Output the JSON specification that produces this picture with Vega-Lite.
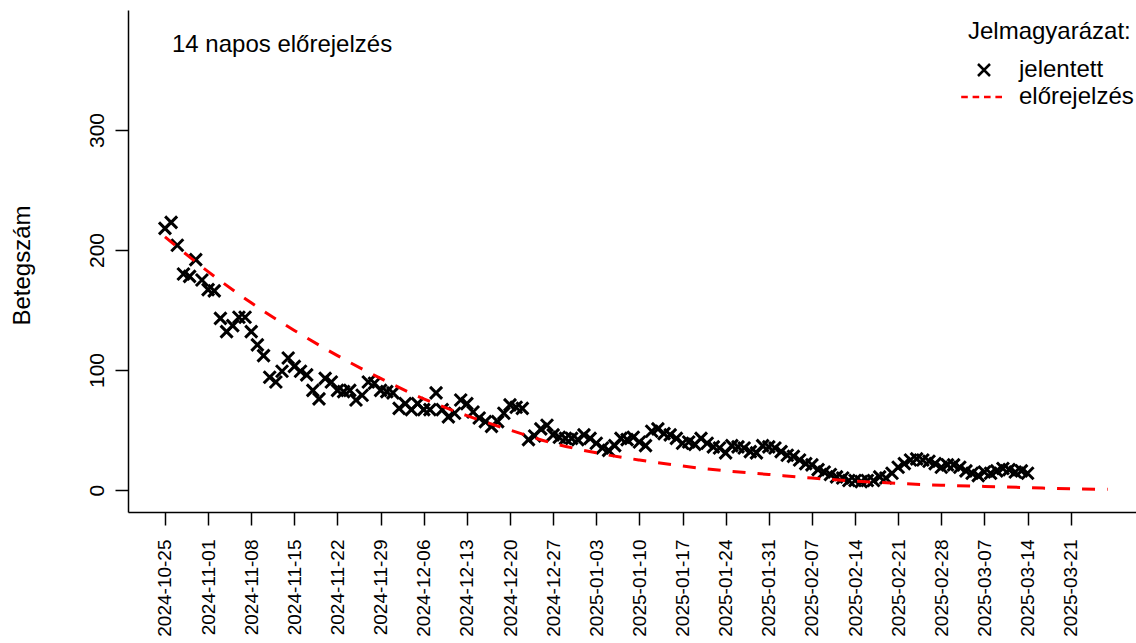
{
  "$schema": "https://vega.github.io/schema/vega-lite/v6.json",
  "width": 1008,
  "height": 502,
  "autosize": {"type": "none"},
  "padding": {"left": 128, "top": 10, "right": 0, "bottom": 131},
  "background": "white",
  "config": {
    "font": "Liberation Sans",
    "view": {"stroke": null},
    "axis": {"grid": false, "domainColor": "black", "tickColor": "black", "labelColor": "black", "titleColor": "black", "domainWidth": 1.5, "tickWidth": 1.5}
  },
  "title": {"text": "14 napos előrejelzés", "anchor": "start", "frame": "group", "offset": -66, "dx": 44, "fontSize": 24, "fontWeight": "normal", "font": "Liberation Sans", "color": "black", "baseline": "alphabetic"},
  "datasets": {
    "reported": [
      {"date": "2024-10-25", "value": 218}, {"date": "2024-10-26", "value": 223}, {"date": "2024-10-27", "value": 204}, {"date": "2024-10-28", "value": 180}, {"date": "2024-10-29", "value": 178}, {"date": "2024-10-30", "value": 192}, {"date": "2024-10-31", "value": 175},
      {"date": "2024-11-01", "value": 167}, {"date": "2024-11-02", "value": 166}, {"date": "2024-11-03", "value": 143}, {"date": "2024-11-04", "value": 132}, {"date": "2024-11-05", "value": 137}, {"date": "2024-11-06", "value": 144}, {"date": "2024-11-07", "value": 144}, {"date": "2024-11-08", "value": 132}, {"date": "2024-11-09", "value": 121}, {"date": "2024-11-10", "value": 112}, {"date": "2024-11-11", "value": 94}, {"date": "2024-11-12", "value": 90}, {"date": "2024-11-13", "value": 99}, {"date": "2024-11-14", "value": 110}, {"date": "2024-11-15", "value": 103}, {"date": "2024-11-16", "value": 99}, {"date": "2024-11-17", "value": 96}, {"date": "2024-11-18", "value": 83}, {"date": "2024-11-19", "value": 76}, {"date": "2024-11-20", "value": 93}, {"date": "2024-11-21", "value": 90}, {"date": "2024-11-22", "value": 83}, {"date": "2024-11-23", "value": 82}, {"date": "2024-11-24", "value": 83}, {"date": "2024-11-25", "value": 75}, {"date": "2024-11-26", "value": 79}, {"date": "2024-11-27", "value": 90}, {"date": "2024-11-28", "value": 89}, {"date": "2024-11-29", "value": 83}, {"date": "2024-11-30", "value": 82},
      {"date": "2024-12-01", "value": 81}, {"date": "2024-12-02", "value": 68}, {"date": "2024-12-03", "value": 72}, {"date": "2024-12-04", "value": 67}, {"date": "2024-12-05", "value": 72}, {"date": "2024-12-06", "value": 67}, {"date": "2024-12-07", "value": 67}, {"date": "2024-12-08", "value": 81}, {"date": "2024-12-09", "value": 67}, {"date": "2024-12-10", "value": 61}, {"date": "2024-12-11", "value": 64}, {"date": "2024-12-12", "value": 75}, {"date": "2024-12-13", "value": 72}, {"date": "2024-12-14", "value": 65}, {"date": "2024-12-15", "value": 60}, {"date": "2024-12-16", "value": 57}, {"date": "2024-12-17", "value": 53}, {"date": "2024-12-18", "value": 57}, {"date": "2024-12-19", "value": 64}, {"date": "2024-12-20", "value": 71}, {"date": "2024-12-21", "value": 69}, {"date": "2024-12-22", "value": 68}, {"date": "2024-12-23", "value": 42}, {"date": "2024-12-24", "value": 45}, {"date": "2024-12-25", "value": 51}, {"date": "2024-12-26", "value": 54}, {"date": "2024-12-27", "value": 46}, {"date": "2024-12-28", "value": 44}, {"date": "2024-12-29", "value": 43}, {"date": "2024-12-30", "value": 43}, {"date": "2024-12-31", "value": 42},
      {"date": "2025-01-01", "value": 46}, {"date": "2025-01-02", "value": 43}, {"date": "2025-01-03", "value": 39}, {"date": "2025-01-04", "value": 35}, {"date": "2025-01-05", "value": 33}, {"date": "2025-01-06", "value": 37}, {"date": "2025-01-07", "value": 43}, {"date": "2025-01-08", "value": 42}, {"date": "2025-01-09", "value": 44}, {"date": "2025-01-10", "value": 40}, {"date": "2025-01-11", "value": 37}, {"date": "2025-01-12", "value": 49}, {"date": "2025-01-13", "value": 51}, {"date": "2025-01-14", "value": 47}, {"date": "2025-01-15", "value": 46}, {"date": "2025-01-16", "value": 43}, {"date": "2025-01-17", "value": 39}, {"date": "2025-01-18", "value": 40}, {"date": "2025-01-19", "value": 38}, {"date": "2025-01-20", "value": 43}, {"date": "2025-01-21", "value": 39}, {"date": "2025-01-22", "value": 36}, {"date": "2025-01-23", "value": 35}, {"date": "2025-01-24", "value": 31}, {"date": "2025-01-25", "value": 37}, {"date": "2025-01-26", "value": 36}, {"date": "2025-01-27", "value": 35}, {"date": "2025-01-28", "value": 32}, {"date": "2025-01-29", "value": 31}, {"date": "2025-01-30", "value": 37}, {"date": "2025-01-31", "value": 36},
      {"date": "2025-02-01", "value": 35}, {"date": "2025-02-02", "value": 32}, {"date": "2025-02-03", "value": 29}, {"date": "2025-02-04", "value": 28}, {"date": "2025-02-05", "value": 25}, {"date": "2025-02-06", "value": 22}, {"date": "2025-02-07", "value": 21}, {"date": "2025-02-08", "value": 17}, {"date": "2025-02-09", "value": 15}, {"date": "2025-02-10", "value": 13}, {"date": "2025-02-11", "value": 11}, {"date": "2025-02-12", "value": 10}, {"date": "2025-02-13", "value": 8}, {"date": "2025-02-14", "value": 8}, {"date": "2025-02-15", "value": 7}, {"date": "2025-02-16", "value": 8}, {"date": "2025-02-17", "value": 8}, {"date": "2025-02-18", "value": 11}, {"date": "2025-02-19", "value": 10}, {"date": "2025-02-20", "value": 14}, {"date": "2025-02-21", "value": 19}, {"date": "2025-02-22", "value": 22}, {"date": "2025-02-23", "value": 25}, {"date": "2025-02-24", "value": 26}, {"date": "2025-02-25", "value": 25}, {"date": "2025-02-26", "value": 24}, {"date": "2025-02-27", "value": 22}, {"date": "2025-02-28", "value": 19},
      {"date": "2025-03-01", "value": 21}, {"date": "2025-03-02", "value": 21}, {"date": "2025-03-03", "value": 19}, {"date": "2025-03-04", "value": 16}, {"date": "2025-03-05", "value": 14}, {"date": "2025-03-06", "value": 12}, {"date": "2025-03-07", "value": 15}, {"date": "2025-03-08", "value": 14}, {"date": "2025-03-09", "value": 16}, {"date": "2025-03-10", "value": 18}, {"date": "2025-03-11", "value": 17}, {"date": "2025-03-12", "value": 15}, {"date": "2025-03-13", "value": 16}, {"date": "2025-03-14", "value": 14}
    ],
    "forecast": [
      {"date": "2024-10-25", "value": 211}, {"date": "2024-11-01", "value": 182}, {"date": "2024-11-08", "value": 156}, {"date": "2024-11-15", "value": 133}, {"date": "2024-11-22", "value": 112}, {"date": "2024-11-29", "value": 93}, {"date": "2024-12-06", "value": 76}, {"date": "2024-12-13", "value": 62}, {"date": "2024-12-20", "value": 50}, {"date": "2024-12-27", "value": 39}, {"date": "2025-01-03", "value": 31}, {"date": "2025-01-10", "value": 25}, {"date": "2025-01-17", "value": 20}, {"date": "2025-01-24", "value": 16}, {"date": "2025-01-31", "value": 13}, {"date": "2025-02-07", "value": 10}, {"date": "2025-02-14", "value": 7.5}, {"date": "2025-02-21", "value": 5.5}, {"date": "2025-02-28", "value": 4}, {"date": "2025-03-07", "value": 3}, {"date": "2025-03-14", "value": 2}, {"date": "2025-03-21", "value": 1}, {"date": "2025-03-27", "value": 0.6}
    ]
  },
  "layer": [
    {
      "data": {"name": "reported"},
      "mark": {"type": "point", "filled": false, "strokeWidth": 3, "size": 144, "opacity": 1},
      "encoding": {
        "x": {
          "field": "date", "type": "temporal",
          "scale": {"type": "utc", "domain": [1729296000000, 1743431040000], "nice": false},
          "axis": {
            "title": null,
            "values": [1729814400000, 1730419200000, 1731024000000, 1731628800000, 1732233600000, 1732838400000, 1733443200000, 1734048000000, 1734652800000, 1735257600000, 1735862400000, 1736467200000, 1737072000000, 1737676800000, 1738281600000, 1738886400000, 1739491200000, 1740096000000, 1740700800000, 1741305600000, 1741910400000, 1742515200000],
            "labelExpr": "utcFormat(datum.value, '%Y-%m-%d')",
            "labelAngle": -90, "labelAlign": "right", "labelBaseline": "middle",
            "labelFontSize": 19, "labelPadding": 14, "tickSize": 13, "labelOverlap": false, "labelFlush": false
          }
        },
        "y": {
          "field": "value", "type": "quantitative",
          "scale": {"domain": [-18.3, 400], "nice": false, "zero": false},
          "axis": {
            "title": "Betegszám", "titleFontSize": 24, "titleFontWeight": "normal", "titleAngle": -90,
            "titleX": -106, "titleY": 255, "titleAlign": "center", "titleBaseline": "middle",
            "values": [0, 100, 200, 300],
            "labelAngle": -90, "labelAlign": "center", "labelBaseline": "bottom",
            "labelFontSize": 21, "labelPadding": 8, "tickSize": 13
          }
        },
        "color": {
          "datum": "jelentett", "type": "nominal", "title": "Jelmagyarázat:",
          "scale": {"domain": ["jelentett", "előrejelzés"], "range": ["black", "red"]},
          "legend": {"orient": "none", "legendX": 840, "legendY": 10, "titleFontSize": 24, "titleFontWeight": "normal", "titleColor": "black", "titlePadding": 14, "labelFontSize": 24, "labelColor": "black", "symbolSize": 144, "symbolStrokeWidth": 2.5, "symbolOffset": 4, "labelOffset": 23, "rowPadding": 3, "padding": 0, "labelLimit": 300}
        },
        "shape": {
          "datum": "jelentett", "type": "nominal", "title": "Jelmagyarázat:",
          "scale": {"domain": ["jelentett", "előrejelzés"], "range": ["M-1,-1L1,1M-1,1L1,-1", "M-3.8,0H-2.7M-1.9,0H-0.8M0,0H1.1M1.9,0H3"]},
          "legend": {"orient": "none", "legendX": 840, "legendY": 10, "titleFontSize": 24, "titleFontWeight": "normal", "titleColor": "black", "titlePadding": 14, "labelFontSize": 24, "labelColor": "black", "symbolSize": 144, "symbolStrokeWidth": 2.5, "symbolOffset": 4, "labelOffset": 23, "rowPadding": 3, "padding": 0, "labelLimit": 300}
        }
      }
    },
    {
      "data": {"name": "forecast"},
      "mark": {"type": "line", "color": "red", "strokeWidth": 3, "strokeDash": [13, 12], "interpolate": "monotone"},
      "encoding": {
        "x": {"field": "date", "type": "temporal"},
        "y": {"field": "value", "type": "quantitative"}
      }
    }
  ]
}
